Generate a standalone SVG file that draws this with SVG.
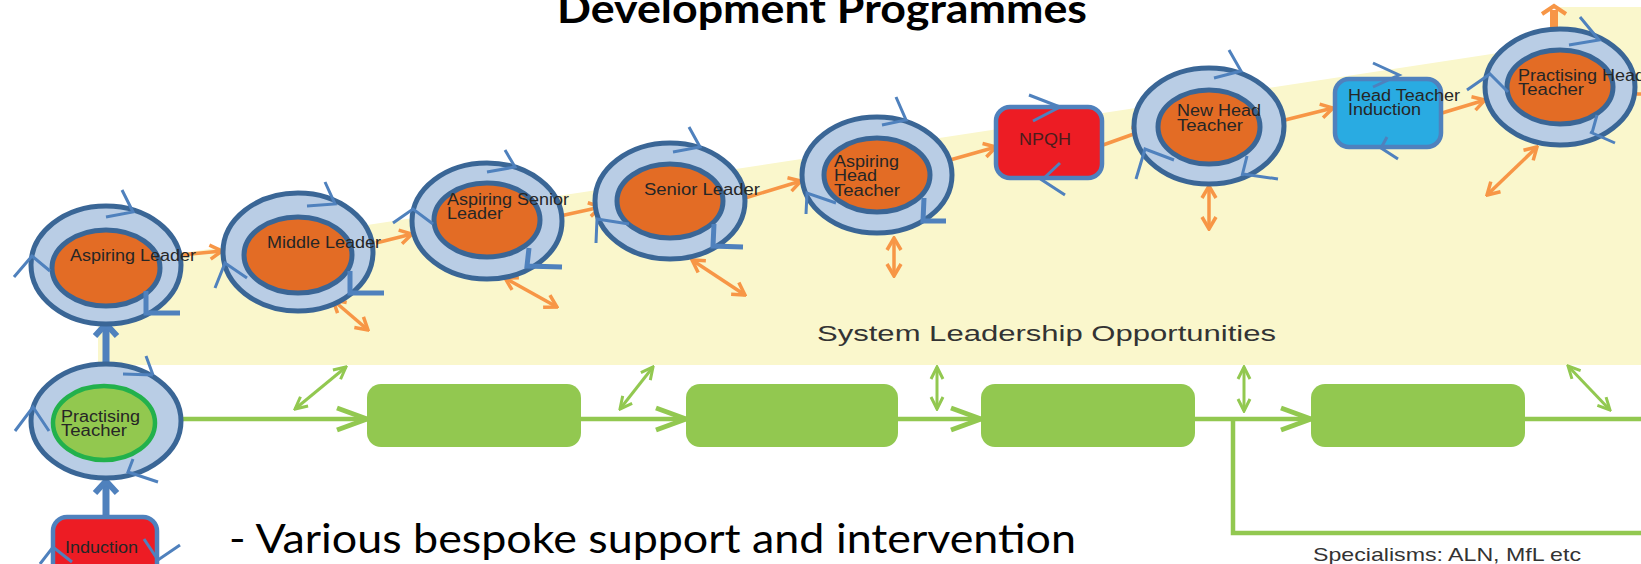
<svg xmlns="http://www.w3.org/2000/svg" width="1641" height="564" viewBox="0 0 1641 564">
<style>
.ring{fill:#b9cde5;stroke:#3a6696;stroke-width:5}
.core{fill:#e36c25;stroke:#3a6696;stroke-width:5}
.coreg{fill:#92c84f;stroke:#22b14c;stroke-width:4.5}
.tick{fill:none;stroke:#4f81bd;stroke-width:3}
.tick2{fill:none;stroke:#4f81bd;stroke-width:5}
.lbl{font-family:"Liberation Sans",Arial,sans-serif;font-size:16px;fill:#262626}
.box-red{fill:#ed1c24;stroke:#4f81bd;stroke-width:4.5}
.box-blue{fill:#29abe2;stroke:#4f81bd;stroke-width:4.5}
.box-green{fill:#92c850}
.oarr{fill:none;stroke:#f79646;stroke-width:3.5}
.gflow{fill:none;stroke:#92c850;stroke-width:4.5}
.garr{fill:none;stroke:#92c850;stroke-width:3}
.barr{fill:none;stroke:#4f81bd;stroke-width:7}
</style>
<defs>
<marker id="mo" markerUnits="userSpaceOnUse" markerWidth="16" markerHeight="18" viewBox="0 0 16 18" refX="14" refY="9" orient="auto-start-reverse"><path d="M2,2 L14,9 L2,16" fill="none" stroke="#f79646" stroke-width="3.5"/></marker>
<marker id="mg" markerUnits="userSpaceOnUse" markerWidth="36" markerHeight="28" viewBox="0 0 36 28" refX="33" refY="14" orient="auto"><path d="M3,3 L33,14 L3,25" fill="none" stroke="#92c850" stroke-width="5"/></marker>
<marker id="mgs" markerUnits="userSpaceOnUse" markerWidth="16" markerHeight="16" viewBox="0 0 16 16" refX="14" refY="8" orient="auto-start-reverse"><path d="M2,2 L14,8 L2,14" fill="none" stroke="#92c850" stroke-width="3"/></marker>
<marker id="mb" markerUnits="userSpaceOnUse" markerWidth="18" markerHeight="28" viewBox="0 0 18 28" refX="15" refY="14" orient="auto"><path d="M3,3 L15,14 L3,25" fill="none" stroke="#4f81bd" stroke-width="6"/></marker>
</defs>

<rect width="1641" height="564" fill="#ffffff"/>
<polygon id="band" points="98,266 1557,44 1557,7 1641,7 1641,365 98,365" fill="#faf7cc"/>

<text x="822" y="23" text-anchor="middle" font-family="Lato,'Open Sans',sans-serif" font-weight="bold" font-size="40" textLength="530" lengthAdjust="spacingAndGlyphs" fill="#000">Development Programmes</text>
<text x="817" y="341" font-family="'Liberation Sans',Arial,sans-serif" font-size="22" fill="#333" textLength="459" lengthAdjust="spacingAndGlyphs">System Leadership Opportunities</text>
<text x="229" y="553" font-family="Lato,'Open Sans',sans-serif" font-size="40" fill="#000" textLength="847" lengthAdjust="spacingAndGlyphs">- Various bespoke support and intervention</text>
<text x="1313" y="561" font-family="'Liberation Sans',Arial,sans-serif" font-size="19" fill="#333" textLength="268" lengthAdjust="spacingAndGlyphs">Specialisms: ALN, MfL etc</text>

<g id="connectors">
 <line class="oarr" x1="180" y1="255" x2="222" y2="251" marker-end="url(#mo)"/>
 <line class="oarr" x1="376" y1="243" x2="412" y2="234" marker-end="url(#mo)"/>
 <line class="oarr" x1="560" y1="216" x2="601" y2="207" marker-end="url(#mo)"/>
 <line class="oarr" x1="745" y1="198" x2="801" y2="181" marker-end="url(#mo)"/>
 <line class="oarr" x1="950" y1="160" x2="996" y2="147" marker-end="url(#mo)"/>
 <line class="oarr" x1="1103" y1="145" x2="1145" y2="130" marker-end="url(#mo)"/>
 <line class="oarr" x1="1281" y1="121" x2="1333" y2="108" marker-end="url(#mo)"/>
 <line class="oarr" x1="1442" y1="113" x2="1485" y2="100" marker-end="url(#mo)"/>
 <line class="oarr" x1="1636" y1="94" x2="1641" y2="94"/>
 <line x1="1554" y1="30" x2="1554" y2="10" stroke="#f79646" stroke-width="8"/>
 <path d="M1542,14 L1554,6 L1566,14" fill="none" stroke="#f79646" stroke-width="4"/>

 <line class="oarr" x1="333" y1="300" x2="368" y2="330" marker-start="url(#mo)" marker-end="url(#mo)"/>
 <line class="oarr" x1="505" y1="278" x2="557" y2="307" marker-start="url(#mo)" marker-end="url(#mo)"/>
 <line class="oarr" x1="692" y1="260" x2="745" y2="295" marker-start="url(#mo)" marker-end="url(#mo)"/>
 <line class="oarr" x1="894" y1="238" x2="894" y2="276" marker-start="url(#mo)" marker-end="url(#mo)"/>
 <line class="oarr" x1="1209" y1="186" x2="1209" y2="229" marker-start="url(#mo)" marker-end="url(#mo)"/>
 <line class="oarr" x1="1537" y1="147" x2="1487" y2="195" marker-start="url(#mo)" marker-end="url(#mo)"/>

 <line class="gflow" x1="180" y1="419" x2="367" y2="419" marker-end="url(#mg)"/>
 <line class="gflow" x1="581" y1="419" x2="686" y2="419" marker-end="url(#mg)"/>
 <line class="gflow" x1="898" y1="419" x2="981" y2="419" marker-end="url(#mg)"/>
 <line class="gflow" x1="1195" y1="419" x2="1311" y2="419" marker-end="url(#mg)"/>
 <line class="gflow" x1="1525" y1="419" x2="1641" y2="419"/>
 <polyline class="gflow" points="1233,419 1233,533 1641,533"/>

 <line class="garr" x1="295" y1="409" x2="346" y2="367" marker-start="url(#mgs)" marker-end="url(#mgs)"/>
 <line class="garr" x1="620" y1="409" x2="653" y2="367" marker-start="url(#mgs)" marker-end="url(#mgs)"/>
 <line class="garr" x1="937" y1="409" x2="937" y2="367" marker-start="url(#mgs)" marker-end="url(#mgs)"/>
 <line class="garr" x1="1244" y1="411" x2="1244" y2="367" marker-start="url(#mgs)" marker-end="url(#mgs)"/>
 <line class="garr" x1="1568" y1="366" x2="1610" y2="410" marker-start="url(#mgs)" marker-end="url(#mgs)"/>

 <line class="barr" x1="106" y1="364" x2="106" y2="324" marker-end="url(#mb)"/>
 <line class="barr" x1="106" y1="516" x2="106" y2="481" marker-end="url(#mb)"/>
</g>

<g id="green-1"><rect class="box-green" x="367" y="384" width="214" height="63" rx="14"/></g>
<g id="green-2"><rect class="box-green" x="686" y="384" width="212" height="63" rx="14"/></g>
<g id="green-3"><rect class="box-green" x="981" y="384" width="214" height="63" rx="14"/></g>
<g id="green-4"><rect class="box-green" x="1311" y="384" width="214" height="63" rx="14"/></g>

<g id="aspiring-leader" transform="translate(106,265)">
 <ellipse class="ring" rx="75" ry="59"/>
 <ellipse class="core" cy="3" rx="54" ry="38"/>
 <path class="tick" d="M16,-75 L27,-53 L0,-48 M-92,12 L-74,-9 L-56,6"/>
 <path class="tick2" d="M40,26 L40,48 L74,48"/>
 <text class="lbl" x="-36" y="-4" textLength="126" lengthAdjust="spacingAndGlyphs">Aspiring Leader</text>
</g>

<g id="middle-leader" transform="translate(298,252)">
 <ellipse class="ring" rx="75" ry="59"/>
 <ellipse class="core" cy="3" rx="54" ry="38"/>
 <path class="tick" d="M27,-70 L37,-48 L9,-46 M-83,36 L-73,11 L-51,26"/>
 <path class="tick2" d="M52,19 L52,41 L86,41"/>
 <text class="lbl" x="-31" y="-4" textLength="114" lengthAdjust="spacingAndGlyphs">Middle Leader</text>
</g>

<g id="aspiring-senior-leader" transform="translate(487,221)">
 <ellipse class="ring" rx="75" ry="58"/>
 <ellipse class="core" cy="-1" rx="53" ry="37"/>
 <path class="tick" d="M18,-71 L28,-54 L0,-49 M-94,2 L-74,-12 L-54,3"/>
 <path class="tick2" d="M42,27 L40,45 L75,46"/>
 <text class="lbl" x="-40" y="-16" textLength="122" lengthAdjust="spacingAndGlyphs">Aspiring Senior</text>
 <text class="lbl" x="-40" y="-2" textLength="56" lengthAdjust="spacingAndGlyphs">Leader</text>
</g>

<g id="senior-leader" transform="translate(670,201)">
 <ellipse class="ring" rx="75" ry="58"/>
 <ellipse class="core" cy="0" rx="53" ry="37"/>
 <path class="tick" d="M19,-74 L30,-54 L3,-49 M-74,42 L-73,18 L-41,23"/>
 <path class="tick2" d="M44,23 L43,45 L73,46"/>
 <text class="lbl" x="-26" y="-6" textLength="116" lengthAdjust="spacingAndGlyphs">Senior Leader</text>
</g>

<g id="aspiring-head-teacher" transform="translate(877,175)">
 <ellipse class="ring" rx="75" ry="58"/>
 <ellipse class="core" cy="0" rx="53" ry="37"/>
 <path class="tick" d="M19,-78 L29,-55 L5,-50 M-71,39 L-70,18 L-41,28"/>
 <path class="tick2" d="M47,23 L46,46 L69,46"/>
 <text class="lbl" x="-43" y="-8" textLength="65" lengthAdjust="spacingAndGlyphs">Aspiring</text>
 <text class="lbl" x="-43" y="6" textLength="43" lengthAdjust="spacingAndGlyphs">Head</text>
 <text class="lbl" x="-43" y="21" textLength="66" lengthAdjust="spacingAndGlyphs">Teacher</text>
</g>

<g id="npqh">
 <rect class="box-red" x="996" y="107" width="106" height="71" rx="14"/>
 <path class="tick" d="M1029,95 L1060,107 L1033,121 M1060,163 L1042,180 L1065,195"/>
 <text class="lbl" x="1019" y="145" textLength="52" lengthAdjust="spacingAndGlyphs" style="fill:#4a1c1c">NPQH</text>
</g>

<g id="new-head-teacher" transform="translate(1209,126)">
 <ellipse class="ring" rx="75" ry="58"/>
 <ellipse class="core" cy="1" rx="51" ry="37"/>
 <path class="tick" d="M20,-76 L32,-55 L5,-48 M-73,53 L-64,23 L-35,34 M38,30 L33,50 M34,48 L69,53"/>
 <text class="lbl" x="-32" y="-10" textLength="84" lengthAdjust="spacingAndGlyphs">New Head</text>
 <text class="lbl" x="-32" y="5" textLength="66" lengthAdjust="spacingAndGlyphs">Teacher</text>
</g>

<g id="head-teacher-induction">
 <rect class="box-blue" x="1335" y="79" width="106" height="68" rx="14"/>
 <path class="tick" d="M1373,63 L1399,75 L1373,87 M1387,137 L1381,148 L1398,159"/>
 <text class="lbl" x="1348" y="101" textLength="112" lengthAdjust="spacingAndGlyphs">Head Teacher</text>
 <text class="lbl" x="1348" y="115" textLength="73" lengthAdjust="spacingAndGlyphs">Induction</text>
</g>

<g id="practising-head-teacher" transform="translate(1560,87)">
 <ellipse class="ring" rx="75" ry="58"/>
 <ellipse class="core" rx="53" ry="37"/>
 <path class="tick" d="M20,-70 L39,-47 L9,-42 M-93,3 L-70,-13 L-52,5 M37,28 L32,46 M30,45 L55,56"/>
 <text class="lbl" x="-42" y="-6" textLength="127" lengthAdjust="spacingAndGlyphs">Practising Head</text>
 <text class="lbl" x="-42" y="8" textLength="66" lengthAdjust="spacingAndGlyphs">Teacher</text>
</g>

<g id="practising-teacher" transform="translate(106,421)">
 <ellipse class="ring" rx="75" ry="57"/>
 <ellipse class="coreg" cx="-2" cy="2" rx="51" ry="37"/>
 <path class="tick" d="M40,-65 L47,-46 M17,-47 L47,-46 M-91,10 L-73,-14 L-57,10 M27,38 L22,51 L52,61"/>
 <text class="lbl" x="-45" y="1" textLength="79" lengthAdjust="spacingAndGlyphs">Practising</text>
 <text class="lbl" x="-45" y="15" textLength="66" lengthAdjust="spacingAndGlyphs">Teacher</text>
</g>

<g id="induction">
 <rect class="box-red" x="53" y="517" width="104" height="70" rx="14"/>
 <path class="tick" d="M40,564 L53,547 L72,562 M144,539 L158,560 L180,545"/>
 <text class="lbl" x="65" y="553" textLength="73" lengthAdjust="spacingAndGlyphs">Induction</text>
</g>
</svg>
